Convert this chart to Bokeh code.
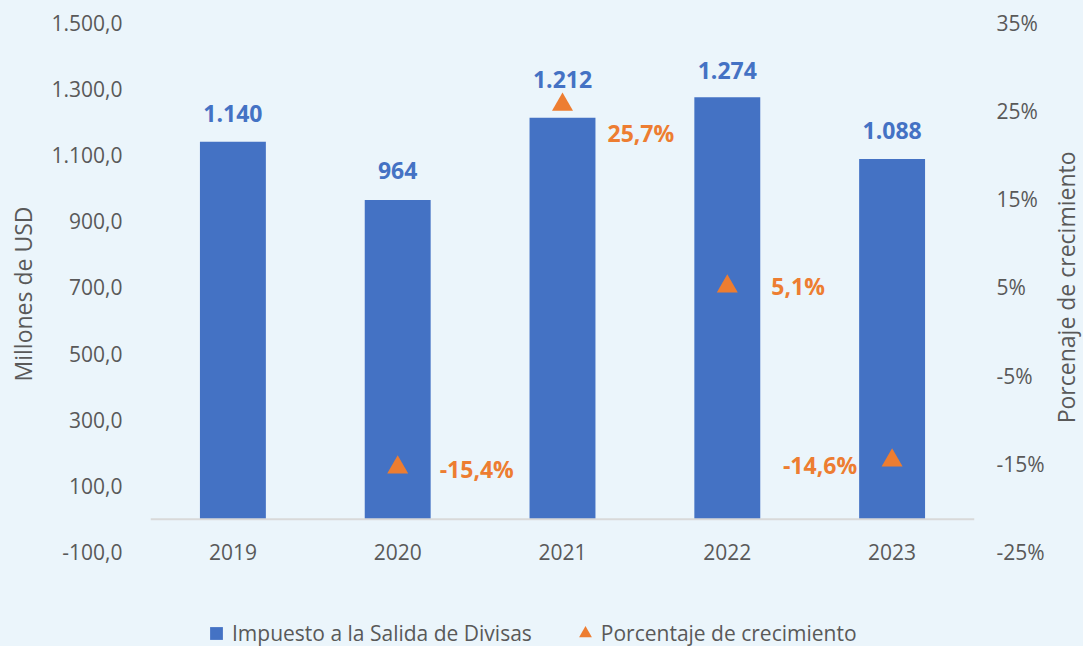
from bokeh.plotting import figure
from bokeh.layouts import column, row
from bokeh.models import (FactorRange, Range1d, LinearAxis, FixedTicker, Span,
                          Legend, LegendItem, ColumnDataSource)
from bokeh.core.properties import value
from bokeh.embed import file_html
from bokeh.resources import INLINE
import math

# ---------------- data ----------------
years = ["2019", "2020", "2021", "2022", "2023"]
isd_values = [1140, 964, 1212, 1274, 1088]
isd_labels = ["1.140", "964", "1.212", "1.274", "1.088"]

growth_years = ["2020", "2021", "2022", "2023"]
growth_values = [-15.4, 25.7, 5.1, -14.6]
growth_labels = ["-15,4%", "25,7%", "5,1%", "-14,6%"]

left_ticks = [-100, 100, 300, 500, 700, 900, 1100, 1300, 1500]
left_tick_labels = ["-100,0", "100,0", "300,0", "500,0", "700,0", "900,0",
                    "1.100,0", "1.300,0", "1.500,0"]
right_ticks = [-25, -15, -5, 5, 15, 25, 35]
right_tick_labels = ["-25%", "-15%", "-5%", "5%", "15%", "25%", "35%"]

series_names = ["Impuesto a la Salida de Divisas", "Porcentaje de crecimiento"]
left_title = "Millones de USD"
right_title = "Porcenaje de crecimiento"

# ---------------- style ----------------
BG = "#EBF5FB"
BLUE = "#4472C4"
ORANGE = "#ED7D31"
GRAY = "#595959"
FONT = "Open Sans"

Y0, Y1 = -140, 1500
# matching secondary range (-100 -> -25%, 1500 -> 35%)
P0 = -25 + (Y0 + 100) / 1600 * 60
P1 = 35

TITLE_W = 36
p = figure(width=1083 - TITLE_W, height=565, x_range=FactorRange(*years),
           y_range=Range1d(Y0, Y1), output_backend="svg", toolbar_location=None,
           min_border_left=150, min_border_right=1083 - TITLE_W - 975,
           min_border_top=22, min_border_bottom=0)
p.extra_y_ranges = {"pct": Range1d(P0, P1)}
p.background_fill_color = BG
p.border_fill_color = BG
p.outline_line_color = None
p.grid.visible = False
p.xaxis.visible = False

# left axis
ya = p.yaxis[0]
ya.ticker = FixedTicker(ticks=left_ticks)
ya.major_label_overrides = {t: l for t, l in zip(left_ticks, left_tick_labels)}
ya.axis_line_color = None
ya.major_tick_line_color = None
ya.minor_tick_line_color = None
ya.major_tick_out = 0
ya.major_tick_in = 0
ya.major_label_standoff = 28
ya.major_label_text_font = FONT
ya.major_label_text_font_size = "21px"
ya.major_label_text_color = GRAY
ya.axis_label = left_title
ya.axis_label_text_font = FONT
ya.axis_label_text_font_size = "23px"
ya.axis_label_text_font_style = "normal"
ya.axis_label_text_color = GRAY
ya.axis_label_standoff = 10

# right axis (tick labels only; its title is drawn in the strip to the right)
ra = LinearAxis(y_range_name="pct", ticker=FixedTicker(ticks=right_ticks))
ra.major_label_overrides = {t: l for t, l in zip(right_ticks, right_tick_labels)}
ra.axis_line_color = None
ra.major_tick_line_color = None
ra.minor_tick_line_color = None
ra.major_tick_out = 0
ra.major_tick_in = 0
ra.major_label_standoff = 22
ra.major_label_text_font = FONT
ra.major_label_text_font_size = "21px"
ra.major_label_text_color = GRAY
p.add_layout(ra, "right")

# bars
bar_src = ColumnDataSource(dict(x=years, top=isd_values, lab=isd_labels,
                                yoff=[-28, -29, -38, -27, -28]))
p.vbar(x="x", top="top", bottom=0, width=0.4, source=bar_src,
       fill_color=BLUE, line_color=None)

# zero line
p.add_layout(Span(location=0, dimension="width", line_color="#D9D9D9", line_width=2))

# bar labels
p.text(x="x", y="top", text="lab", source=bar_src, y_offset="yoff",
       text_align="center", text_baseline="middle", text_color=BLUE,
       text_font=value(FONT), text_font_size="23px", text_font_style="bold")

# category labels
p.text(x=years, y=[-100] * len(years), text=years, text_align="center",
       text_baseline="middle", text_color=GRAY, text_font=value(FONT),
       text_font_size="21px")

# growth triangles
g_src = ColumnDataSource(dict(x=growth_years, y=growth_values, lab=growth_labels,
                              xoff=[42, 45, 44, -35], yoff=[2, 28, 0, 5],
                              align=["left", "left", "left", "right"]))
p.scatter(x="x", y="y", y_range_name="pct", source=g_src, marker="triangle",
          size=21, fill_color=ORANGE, line_color=None)
p.text(x="x", y="y", text="lab", y_range_name="pct", source=g_src,
       x_offset="xoff", y_offset="yoff", text_align="align",
       text_baseline="middle", text_color=ORANGE, text_font=value(FONT),
       text_font_size="23px", text_font_style="bold")

# right-axis title strip (shares the vertical scale of the chart)
tf = figure(width=TITLE_W, height=565, x_range=Range1d(0, 1),
            y_range=p.y_range, output_backend="svg", toolbar_location=None,
            x_axis_type=None, y_axis_type=None,
            min_border_left=0, min_border_right=0, min_border_top=22,
            min_border_bottom=0)
tf.background_fill_color = BG
tf.border_fill_color = BG
tf.outline_line_color = None
tf.grid.visible = False
tf.text(x=[0.52], y=[(left_ticks[0] + left_ticks[-1]) / 2], text=[right_title],
        angle=math.pi / 2, text_align="center", text_baseline="middle",
        text_color=GRAY, text_font=value(FONT), text_font_size="23px")

# legend strip (legend-only renderers sit outside its visible range)
lg = figure(width=1083, height=81, x_range=Range1d(0, 1), y_range=Range1d(0, 1),
            output_backend="svg", toolbar_location=None,
            x_axis_type=None, y_axis_type=None,
            min_border_left=0, min_border_right=0, min_border_top=0,
            min_border_bottom=0)
lg.background_fill_color = BG
lg.border_fill_color = BG
lg.outline_line_color = None
lg.grid.visible = False
d1 = lg.scatter(x=[-5], y=[-5], marker="square", fill_color=BLUE, line_color=None)
d2 = lg.scatter(x=[-5], y=[-5], marker="triangle", fill_color=ORANGE, line_color=None)
legend = Legend(items=[LegendItem(label=series_names[0], renderers=[d1]),
                       LegendItem(label=series_names[1], renderers=[d2])],
                orientation="horizontal", location=(200, -4),
                glyph_width=32, glyph_height=34, label_standoff=0, spacing=37,
                padding=0, margin=0, border_line_color=None,
                background_fill_alpha=0, label_text_font=FONT,
                label_text_font_size="21px", label_text_color=GRAY)
lg.add_layout(legend)

layout = column(row(p, tf, spacing=0), lg, spacing=0,
                styles={"background-color": BG})
html = file_html(layout, INLINE)
html = html.replace("<body>", '<body style="background:%s">' % BG, 1)
open("out.html", "w").write(html)
